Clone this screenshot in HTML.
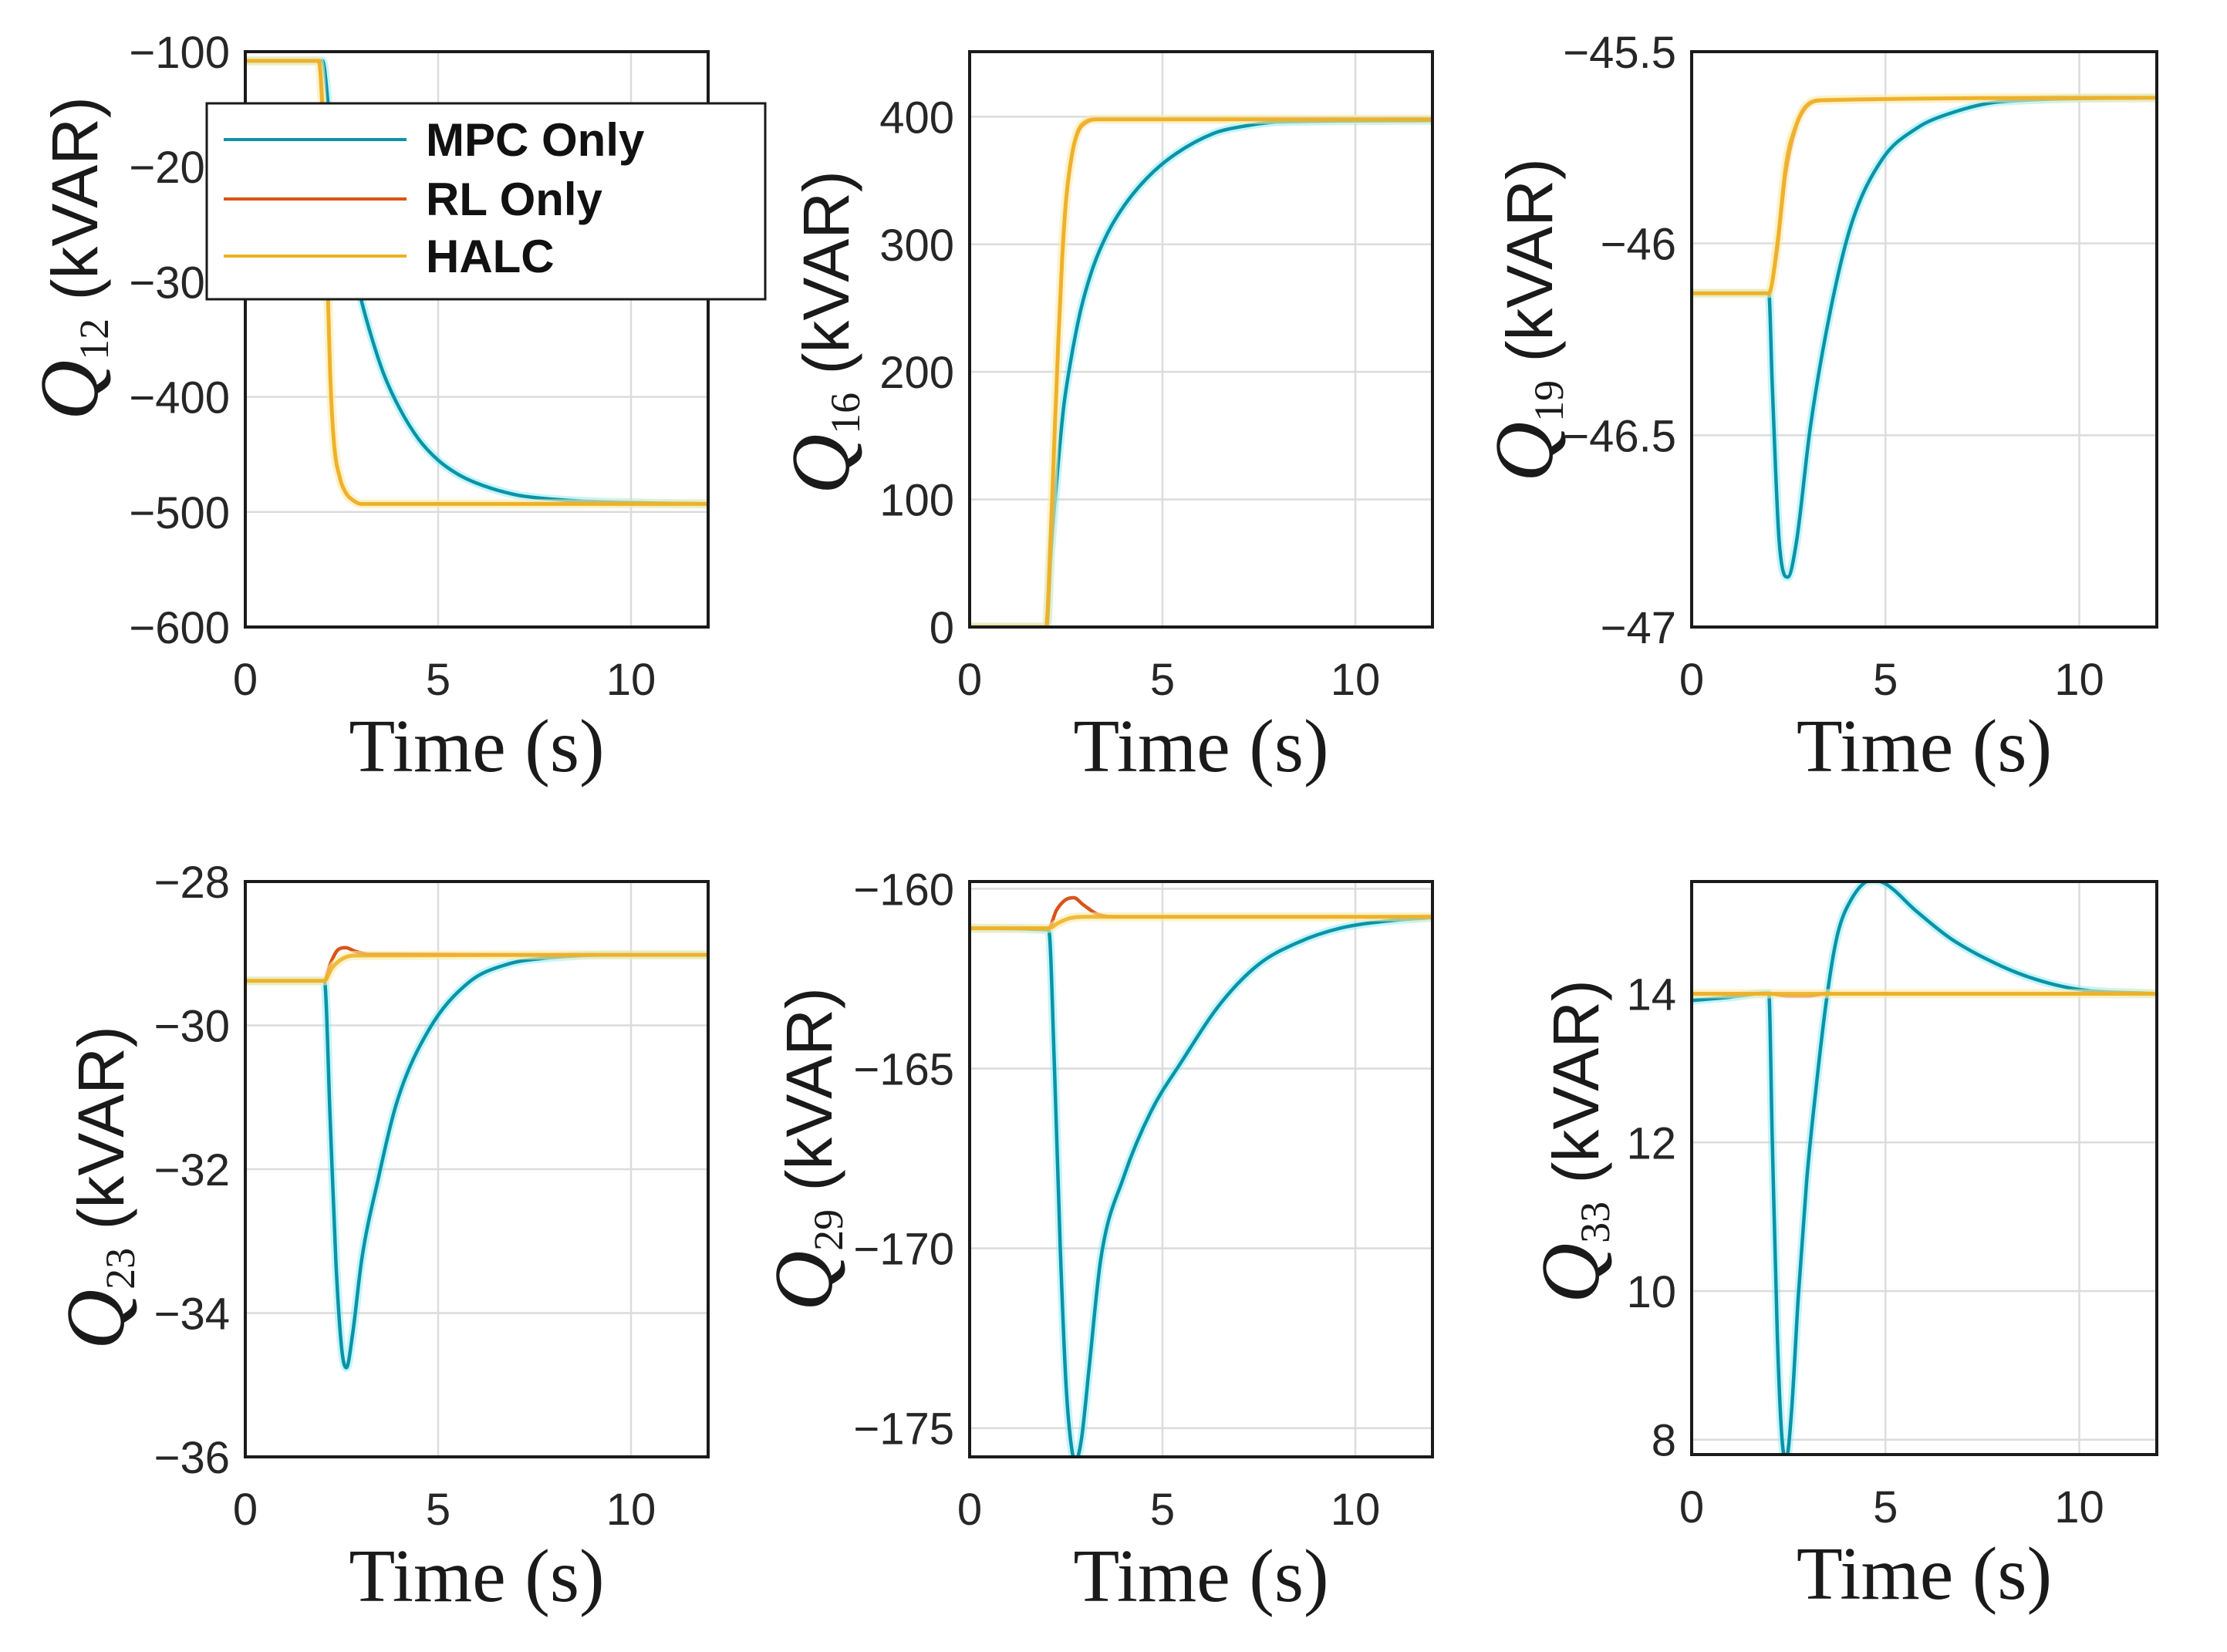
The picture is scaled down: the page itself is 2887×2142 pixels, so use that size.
<!DOCTYPE html>
<html><head><meta charset="utf-8">
<style>
html,body{margin:0;padding:0;background:#fff;}
svg{display:block;}
</style></head>
<body>
<svg id="fig" xmlns="http://www.w3.org/2000/svg" width="2887" height="2142" viewBox="0 0 2887 2142">
<rect width="2887" height="2142" fill="#fff"/>
</svg>
<script>
// ---- data (time in s, values in kVAR) ----
const q12_mpc_t = [0,2,2.2,2.4,2.6,2.8,3,3.3,3.6,4,4.5,5,5.5,6,7,8,9,12];
const q12_mpc_v = [-108,-108,-163,-210,-250,-285,-315,-351,-381,-410,-437,-455,-467,-475,-485,-489,-491,-493];
const q12_halc_t = [0,1.9,2.0,2.1,2.2,2.3,2.45,2.6,2.8,3.0,12];
const q12_halc_v = [-108,-108,-150,-260,-380,-440,-470,-483,-490,-493,-493];
const q12_rl_t = q12_halc_t;
const q12_rl_v = [-108,-108,-150,-260,-380,-440,-470,-483,-490,-493,-493];

const q16_mpc_t = [0,2.0,2.1,2.2,2.3,2.44,2.6,2.75,2.9,3.2,3.58,4.0,4.6,5.3,6.33,7,8.05,12];
const q16_mpc_v = [0,0,55,95,130,173,205,230,251,282,309,330,352,370,387,392,396,397];
const q16_halc_t = [0,1.98,2.1,2.2,2.3,2.4,2.5,2.65,2.8,3.0,3.3,12];
const q16_halc_v = [0,0,70,150,225,290,335,370,388,396,398,398];
const q16_rl_t = q16_halc_t;
const q16_rl_v = [0,0,68,148,222,288,333,369,387,395,398,398];

const q19_mpc_t = [0,1.99,2.08,2.26,2.48,2.7,3.06,3.59,4.12,4.92,5.8,6.69,8.0,12];
const q19_mpc_v = [-46.13,-46.13,-46.37,-46.78,-46.87,-46.78,-46.48,-46.17,-45.95,-45.78,-45.70,-45.66,-45.63,-45.62];
const q19_halc_t = [0,1.99,2.21,2.44,2.7,2.97,3.4,12];
const q19_halc_v = [-46.13,-46.13,-46.0,-45.79,-45.69,-45.64,-45.626,-45.62];
const q19_rl_t = [0,1.99,2.2,2.42,2.68,2.95,3.4,12];
const q19_rl_v = [-46.13,-46.13,-46.02,-45.82,-45.70,-45.645,-45.627,-45.62];

const q23_mpc_t = [0,2.05,2.2,2.35,2.5,2.62,2.78,3.02,3.44,3.94,4.76,5.8,6.8,7.9,9.5,12];
const q23_mpc_v = [-29.38,-29.38,-31.3,-33.3,-34.5,-34.76,-34.3,-33.25,-32.15,-31.05,-30.06,-29.4,-29.15,-29.06,-29.02,-29.02];
const q23_rl_t = [0,2.05,2.2,2.4,2.6,2.85,3.2,12];
const q23_rl_v = [-29.38,-29.38,-29.15,-28.95,-28.92,-28.97,-29.01,-29.02];
const q23_halc_t = [0,2.05,2.25,2.5,2.8,12];
const q23_halc_v = [-29.38,-29.38,-29.2,-29.08,-29.03,-29.02];

const q29_mpc_t = [0,2.05,2.2,2.35,2.5,2.65,2.75,2.9,3.1,3.4,4.0,4.7,5.5,6.5,7.5,8.5,9.6,10.8,12];
const q29_mpc_v = [-161.1,-161.15,-165,-170,-173.8,-175.6,-175.9,-175.3,-173.3,-170.3,-168.0,-166.2,-164.8,-163.2,-162.1,-161.5,-161.1,-160.9,-160.8];
const q29_rl_t = [0,2.05,2.25,2.5,2.7,2.95,3.3,3.8,12];
const q29_rl_v = [-161.1,-161.1,-160.6,-160.3,-160.25,-160.45,-160.7,-160.78,-160.78];
const q29_halc_t = [0,2.05,2.3,2.6,3.0,12];
const q29_halc_v = [-161.1,-161.1,-160.95,-160.82,-160.78,-160.78];

const q33_mpc_t = [0,0.93,1.99,2.08,2.21,2.35,2.44,2.57,2.75,2.97,3.23,3.5,3.76,4.12,4.65,5.0,5.8,6.69,8.0,8.9,9.96,12];
const q33_mpc_v = [13.91,13.95,14.01,12.04,9.39,7.9,7.75,8.33,9.92,11.5,12.83,14.0,14.79,15.27,15.53,15.48,15.11,14.74,14.37,14.19,14.06,14.0];
const q33_rl_t = [0,1.99,2.5,3.0,3.5,12];
const q33_rl_v = [14.0,14.0,13.97,13.97,14.0,14.0];
const q33_halc_t = [0,12];
const q33_halc_v = [14.0,14.0];

const xTicks = [0,5,10];
const xTickLabels = ["0","5","10"];

const panels = [
 {id:"q12", sub:"12", box:[318,67,918,813], ylim:[-600,-100], yticks:[-600,-500,-400,-300,-200,-100], ylabels:["\u2212600","\u2212500","\u2212400","\u2212300","\u2212200","\u2212100"], lab:[126,335],
  s:[[q12_mpc_t,q12_mpc_v],[q12_rl_t,q12_rl_v],[q12_halc_t,q12_halc_v]]},
 {id:"q16", sub:"16", box:[1257,67,1857,813], ylim:[0,451], yticks:[0,100,200,300,400], ylabels:["0","100","200","300","400"], lab:[1100,431],
  s:[[q16_mpc_t,q16_mpc_v],[q16_rl_t,q16_rl_v],[q16_halc_t,q16_halc_v]]},
 {id:"q19", sub:"19", box:[2193,67,2796,813], ylim:[-47,-45.5], yticks:[-47,-46.5,-46,-45.5], ylabels:["\u221247","\u221246.5","\u221246","\u221245.5"], lab:[2012,415],
  s:[[q19_mpc_t,q19_mpc_v],[q19_rl_t,q19_rl_v],[q19_halc_t,q19_halc_v]]},
 {id:"q23", sub:"23", box:[318,1143,918,1889], ylim:[-36,-28], yticks:[-36,-34,-32,-30,-28], ylabels:["\u221236","\u221234","\u221232","\u221230","\u221228"], lab:[160,1540],
  s:[[q23_mpc_t,q23_mpc_v],[q23_rl_t,q23_rl_v],[q23_halc_t,q23_halc_v]]},
 {id:"q29", sub:"29", box:[1257,1143,1857,1889], ylim:[-175.8,-159.8], yticks:[-175,-170,-165,-160], ylabels:["\u2212175","\u2212170","\u2212165","\u2212160"], lab:[1078,1490],
  s:[[q29_mpc_t,q29_mpc_v],[q29_rl_t,q29_rl_v],[q29_halc_t,q29_halc_v]]},
 {id:"q33", sub:"33", box:[2193,1143,2796,1886], ylim:[7.8,15.51], yticks:[8,10,12,14], ylabels:["8","10","12","14"], lab:[2072,1480],
  s:[[q33_mpc_t,q33_mpc_v],[q33_rl_t,q33_rl_v],[q33_halc_t,q33_halc_v]]}
];
const seriesNames = ["mpc-only","rl-only","halc"];
const colors = ["#0a93a8","#D95319","#EDB120"];

const NS = "http://www.w3.org/2000/svg";
const fig = document.getElementById("fig");
function mk(tag, attrs, parent){
  const e = document.createElementNS(NS, tag);
  for (const k in attrs) e.setAttribute(k, attrs[k]);
  (parent||fig).appendChild(e);
  return e;
}
// monotone cubic path through points
function smoothPath(P){
  const n = P.length;
  if (n < 3) return "M" + P.map(p => p[0].toFixed(1)+","+p[1].toFixed(1)).join(" L");
  const d = [], m = new Array(n);
  for (let i=0;i<n-1;i++){ const dx=P[i+1][0]-P[i][0]; d.push(dx===0?0:(P[i+1][1]-P[i][1])/dx); }
  m[0]=d[0]; m[n-1]=d[n-2];
  for (let i=1;i<n-1;i++){ m[i] = (d[i-1]*d[i] <= 0) ? 0 : (d[i-1]+d[i])/2; }
  for (let i=0;i<n-1;i++){
    if (d[i]===0){ m[i]=0; m[i+1]=0; continue; }
    const a=m[i]/d[i], b=m[i+1]/d[i], s=a*a+b*b;
    if (s>9){ const t=3/Math.sqrt(s); m[i]=t*a*d[i]; m[i+1]=t*b*d[i]; }
  }
  let s = "M"+P[0][0].toFixed(1)+","+P[0][1].toFixed(1);
  for (let i=0;i<n-1;i++){
    const h=(P[i+1][0]-P[i][0])/3;
    s += " C"+(P[i][0]+h).toFixed(1)+","+(P[i][1]+m[i]*h).toFixed(1)+" "+(P[i+1][0]-h).toFixed(1)+","+(P[i+1][1]-m[i+1]*h).toFixed(1)+" "+P[i+1][0].toFixed(1)+","+P[i+1][1].toFixed(1);
  }
  return s;
}

panels.forEach((p, pi) => {
  const [x0,y0,x1,y1] = p.box;
  const g = mk("g", {});
  
  
  const xs = t => x0 + (t - 0) / 12 * (x1 - x0);
  const ys = v => y1 - (v - p.ylim[0]) / (p.ylim[1] - p.ylim[0]) * (y1 - y0);
  xTicks.forEach((t,i) => {
    if (t > 0) {
      const l = mk("line", {x1:xs(t), x2:xs(t), y1:y0, y2:y1, stroke:"#dcdcdc", "stroke-width":2.5}, g);
      
      
    }
    const tl = mk("text", {x:xs(t), y:y1+88, "text-anchor":"middle", "font-family":"Liberation Sans, sans-serif", "font-size":58, fill:"#262626"}, g);
    tl.textContent = xTickLabels[i];
    
    
  });
  p.yticks.forEach((v,i) => {
    const yy = ys(v);
    if (Math.abs(yy-y0) > 3 && Math.abs(yy-y1) > 3) {
      const l = mk("line", {x1:x0, x2:x1, y1:yy, y2:yy, stroke:"#dcdcdc", "stroke-width":2.5}, g);
      
      
    }
    const tl = mk("text", {x:x0-20, y:yy+21, "text-anchor":"end", "font-family":"Liberation Sans, sans-serif", "font-size":58, fill:"#262626"}, g);
    tl.textContent = p.ylabels[i];
    
    
  });
  const cp = mk("clipPath", {id:"clip"+pi}, g);
  mk("rect", {x:x0, y:y0, width:x1-x0, height:y1-y0}, cp);
  const sg = mk("g", {"clip-path":"url(#clip"+pi+")"}, g);
  p.s.forEach((s, si) => {
    const P = s[0].map((t,k) => [xs(t), ys(s[1][k])]);
    const dstr = smoothPath(P);
    if (si === 0) {
      const halo = mk("path", {d:dstr, fill:"none", stroke:"#7fe8f2", "stroke-width":11, "stroke-opacity":0.45, "stroke-linejoin":"round"}, sg);
      
      
    }
    if (si === 2) {
      const halo = mk("path", {d:dstr, fill:"none", stroke:"#fbe9a8", "stroke-width":12, "stroke-opacity":0.6, "stroke-linejoin":"round"}, sg);
      
      
    }
    const pl = mk("path", {d:dstr, fill:"none", stroke:colors[si], "stroke-width":si===2?5:4.5, "stroke-linejoin":"round", "stroke-opacity":si===2?0.85:1}, sg);
    
    
  });
  const bx = mk("rect", {x:x0, y:y0, width:x1-x0, height:y1-y0, fill:"none", stroke:"#1a1a1a", "stroke-width":4}, g);
  
  
  const xl = mk("text", {x:(x0+x1)/2, y:y1+187, "text-anchor":"middle", "font-family":"Liberation Serif, serif", "font-size":98, fill:"#1a1a1a"}, g);
  xl.textContent = "Time (s)";
  
  
  const yl = mk("text", {transform:"translate("+p.lab[0]+","+p.lab[1]+") rotate(-90)", "text-anchor":"middle", fill:"#1a1a1a"}, g);
  
  
  const t1 = mk("tspan", {"font-family":"Liberation Serif, serif", "font-style":"italic", "font-size":108}, yl);
  t1.textContent = "Q";
  const t2 = mk("tspan", {"font-family":"Liberation Serif, serif", "font-size":54, dy:14}, yl);
  t2.textContent = p.sub;
  const t3 = mk("tspan", {"font-family":"Liberation Sans, sans-serif", "font-size":84, dy:-14}, yl);
  t3.textContent = "\u00a0(kVAR)";
});

const lg = mk("g", {});


mk("rect", {x:268, y:134, width:724, height:254, fill:"#fff", stroke:"#1a1a1a", "stroke-width":3}, lg);
const legendLabels = ["MPC Only","RL Only","HALC"];
const legendRows = [181,258,332];
legendLabels.forEach((lab,i) => {
  const e = mk("g", {}, lg);
  
  
  mk("line", {x1:290, x2:527, y1:legendRows[i], y2:legendRows[i], stroke:colors[i], "stroke-width":4}, e);
  const t = mk("text", {x:552, y:legendRows[i]+21, "font-family":"Liberation Sans, sans-serif", "font-weight":"bold", "font-size":60, fill:"#111"}, e);
  t.textContent = lab;
});
</script>
</body></html>
